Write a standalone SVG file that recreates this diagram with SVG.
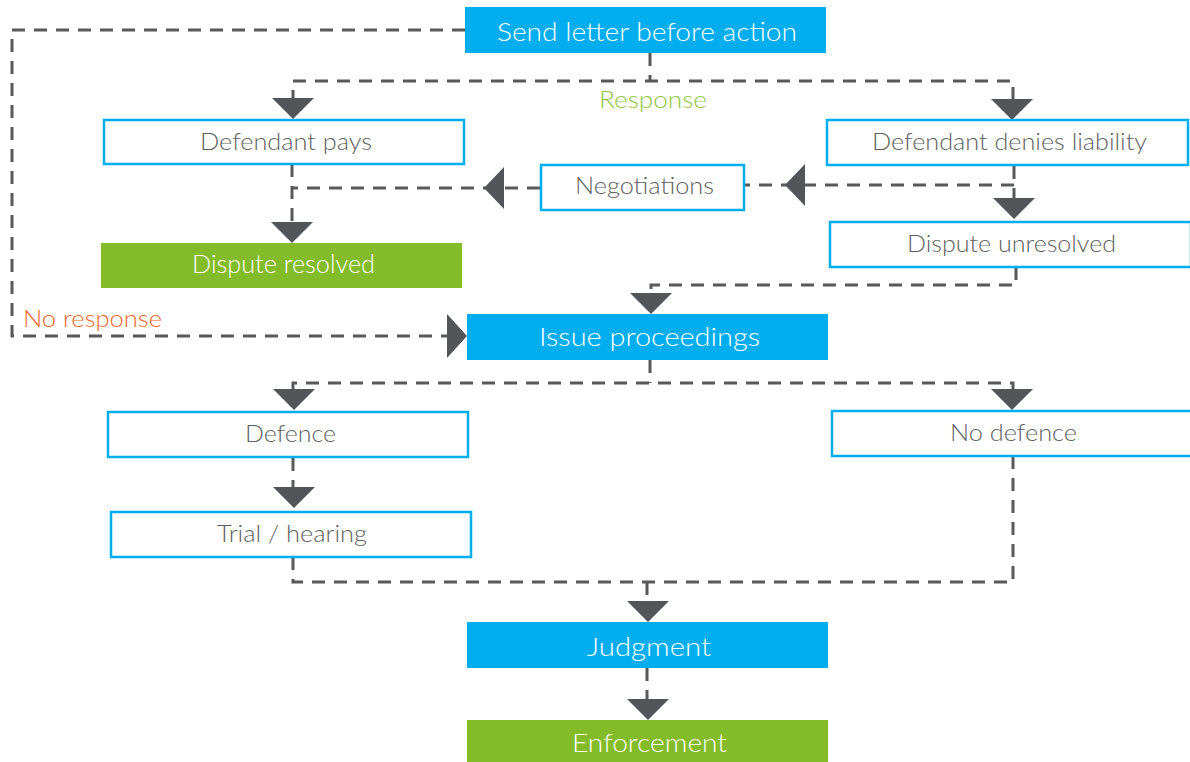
<svg xmlns="http://www.w3.org/2000/svg" xmlns:xlink="http://www.w3.org/1999/xlink" width="1190" height="762" viewBox="0 0 1190 762">
<style>
.fill-blue{fill:#00AEEF}
.fill-green{fill:#84BB29}
.outline{fill:#FFFFFF;stroke:#00AEEF;stroke-width:2.5}
.t{font-family:Lato,"Open Sans","Liberation Sans",sans-serif;font-weight:300;text-anchor:middle}
.tw{fill:#FFFFFF;font-size:26px}
.tg{fill:#5E5F61;font-size:23px}
.conn{fill:none;stroke:#58595B;stroke-width:3;stroke-dasharray:13 9}
.arr{fill:#535659}
</style>
<defs>
<path id="ad" d="M0,0 L-21,-21 L21,-21 Z"/>
<path id="al" d="M0,0 L20,-21 L20,21 Z"/>
<path id="ar" d="M0,0 L-20,-22 L-20,22 Z"/>
</defs>
<g id="connectors">
<path class="conn" d="M465,30 H12 V336 H450"/>
<path class="conn" d="M650,53 V81"/>
<path class="conn" d="M293,103 V81 H1013 V103"/>
<path class="conn" d="M292,164 V225"/>
<path class="conn" d="M540,188 H292"/>
<path class="conn" d="M1014,166 V202"/>
<path class="conn" d="M1014,185 H744"/>
<path class="conn" d="M1016,267 V285 H651 V296"/>
<path class="conn" d="M650,360 V383"/>
<path class="conn" d="M293,392 V383 H1013 V392"/>
<path class="conn" d="M293,458 V490"/>
<path class="conn" d="M293,557 V582 H1013 V457"/>
<path class="conn" d="M647,582 V604"/>
<path class="conn" d="M647,668 V700"/>
<use class="arr" xlink:href="#ad" x="293" y="119"/>
<use class="arr" xlink:href="#ad" x="1012" y="120"/>
<use class="arr" xlink:href="#al" x="785" y="185"/>
<use class="arr" xlink:href="#al" x="484" y="188"/>
<use class="arr" xlink:href="#ad" x="292" y="243"/>
<use class="arr" xlink:href="#ad" x="1014" y="219"/>
<use class="arr" xlink:href="#ad" x="651" y="314"/>
<use class="arr" xlink:href="#ar" x="467" y="336"/>
<use class="arr" xlink:href="#ad" x="294" y="410"/>
<use class="arr" xlink:href="#ad" x="1012" y="410"/>
<use class="arr" xlink:href="#ad" x="294" y="508"/>
<use class="arr" xlink:href="#ad" x="648" y="622"/>
<use class="arr" xlink:href="#ad" x="648" y="720"/>
<text class="t" x="653" y="108" style="fill:#8DC63F;font-size:23px" textLength="108" lengthAdjust="spacingAndGlyphs">Response</text>
<text class="t" x="92.5" y="327" style="fill:#F7652B;font-size:23px" textLength="139" lengthAdjust="spacingAndGlyphs">No response</text>
</g>
<g id="send-letter">
<rect class="fill-blue" x="465" y="7" width="361" height="46"/>
<text class="t tw" x="647" y="41" textLength="300" lengthAdjust="spacingAndGlyphs">Send letter before action</text>
</g>
<g id="defendant-pays">
<rect class="outline" x="104" y="120" width="360" height="44"/>
<text class="t tg" x="286" y="150" textLength="172" lengthAdjust="spacingAndGlyphs">Defendant pays</text>
</g>
<g id="defendant-denies">
<rect class="outline" x="827" y="120" width="361" height="45"/>
<text class="t tg" x="1009.5" y="150" textLength="275" lengthAdjust="spacingAndGlyphs">Defendant denies liability</text>
</g>
<g id="negotiations">
<rect class="outline" x="541" y="165" width="203" height="45"/>
<text class="t tg" x="644.5" y="194" textLength="139" lengthAdjust="spacingAndGlyphs">Negotiations</text>
</g>
<g id="dispute-resolved">
<rect class="fill-green" x="101" y="243" width="361" height="45"/>
<text class="t tw" x="283.5" y="273" textLength="183" lengthAdjust="spacingAndGlyphs">Dispute resolved</text>
</g>
<g id="dispute-unresolved">
<rect class="outline" x="830" y="222" width="361" height="45"/>
<text class="t tg" x="1011.5" y="252" textLength="209" lengthAdjust="spacingAndGlyphs">Dispute unresolved</text>
</g>
<g id="issue-proceedings">
<rect class="fill-blue" x="467" y="314" width="361" height="46"/>
<text class="t tw" x="649.5" y="346" textLength="221" lengthAdjust="spacingAndGlyphs">Issue proceedings</text>
</g>
<g id="defence">
<rect class="outline" x="108" y="412" width="360" height="45"/>
<text class="t tg" x="290.5" y="442" textLength="91" lengthAdjust="spacingAndGlyphs">Defence</text>
</g>
<g id="no-defence">
<rect class="outline" x="832" y="411" width="360" height="45"/>
<text class="t tg" x="1013.5" y="441" textLength="127" lengthAdjust="spacingAndGlyphs">No defence</text>
</g>
<g id="trial-hearing">
<rect class="outline" x="111" y="512" width="360" height="45"/>
<text class="t tg" x="292" y="542" textLength="150" lengthAdjust="spacingAndGlyphs">Trial / hearing</text>
</g>
<g id="judgment">
<rect class="fill-blue" x="467" y="622" width="361" height="46"/>
<text class="t tw" x="649" y="656" textLength="124" lengthAdjust="spacingAndGlyphs">Judgment</text>
</g>
<g id="enforcement">
<rect class="fill-green" x="467" y="720" width="361" height="42"/>
<text class="t tw" x="649.5" y="752" textLength="155" lengthAdjust="spacingAndGlyphs">Enforcement</text>
</g>
</svg>
